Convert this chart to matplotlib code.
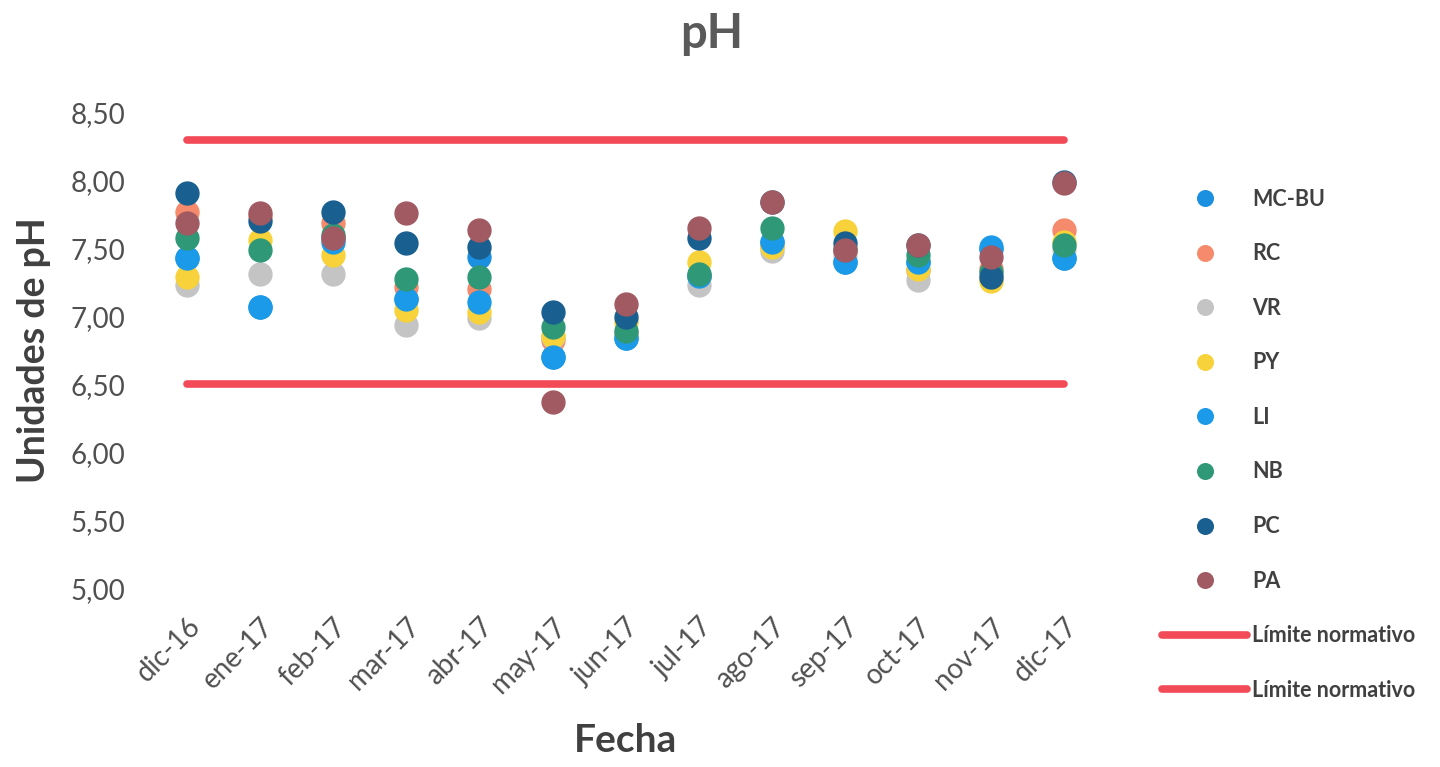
import matplotlib
matplotlib.use("Agg")
import matplotlib.pyplot as plt

plt.rcParams['font.family'] = ['Lato', 'DejaVu Sans']

# Meses de muestreo
meses = ["dic-16", "ene-17", "feb-17", "mar-17", "abr-17", "may-17", "jun-17",
         "jul-17", "ago-17", "sep-17", "oct-17", "nov-17", "dic-17"]

# Valores de pH por punto de muestreo
mc_bu = [7.43, 7.07, 7.58, 7.13, 7.44, 6.70, 6.84, 7.30, 7.55, 7.40, 7.40, 7.50, 7.43]
rc = [7.77, 7.74, 7.69, 7.22, 7.20, 6.83, 6.88, 7.30, 7.52, 7.48, 7.34, 7.35, 7.64]
vr = [7.23, 7.31, 7.31, 6.94, 6.99, 6.85, 6.88, 7.23, 7.48, 7.45, 7.27, 7.28, 7.50]
py = [7.29, 7.56, 7.45, 7.05, 7.03, 6.86, 6.96, 7.40, 7.51, 7.63, 7.35, 7.26, 7.55]
li = [7.43, 7.07, 7.55, 7.13, 7.11, 6.70, 6.84, 7.30, 7.55, 7.40, 7.40, 7.51, 7.43]
nb = [7.58, 7.49, 7.60, 7.28, 7.29, 6.92, 6.89, 7.31, 7.65, 7.50, 7.45, 7.33, 7.53]
pc = [7.91, 7.70, 7.77, 7.54, 7.51, 7.03, 7.00, 7.58, 7.84, 7.54, 7.53, 7.29, 7.99]
pa = [7.69, 7.76, 7.58, 7.76, 7.64, 6.37, 7.09, 7.65, 7.84, 7.49, 7.53, 7.44, 7.98]

# Limites normativos
limite_sup = [8.3] * len(meses)
limite_inf = [6.5] * len(meses)

series = [
    ("MC-BU", mc_bu, "#1b8fe0"),
    ("RC", rc, "#f58a6c"),
    ("VR", vr, "#c4c4c4"),
    ("PY", py, "#f8d23a"),
    ("LI", li, "#1a9ae8"),
    ("NB", nb, "#2f9877"),
    ("PC", pc, "#195f8f"),
    ("PA", pa, "#a15a62"),
]

fig = plt.figure(figsize=(14.4, 7.67), dpi=100)
ax = fig.add_axes([0.1045, 0.233, 0.66, 0.62])

x = list(range(len(meses)))
for nombre, valores, color in series:
    ax.plot(x, valores, "o", linestyle="none", markersize=16.5, color=color,
            label=nombre, clip_on=False, zorder=3)

ax.plot(x, limite_sup, color="#f24b57", linewidth=5.5, label="Límite normativo",
        solid_capstyle="round", zorder=2)
ax.plot(x, limite_inf, color="#f24b57", linewidth=5.5, label="Límite normativo",
        solid_capstyle="round", zorder=2)

ax.set_xlim(-0.5, len(meses) - 0.5)
ax.set_ylim(5.0, 8.5)
ax.set_yticks([5.0, 5.5, 6.0, 6.5, 7.0, 7.5, 8.0, 8.5])
ax.set_yticklabels([f"{v:.2f}".replace(".", ",") for v in ax.get_yticks()])
ax.set_xticks(x)
ax.set_xticklabels(meses, rotation=45, ha="right", rotation_mode="anchor")

for s in ax.spines.values():
    s.set_visible(False)
ax.tick_params(length=0, labelsize=20, colors="#505050")
ax.tick_params(axis="y", pad=18)
ax.tick_params(axis="x", pad=18)

ax.set_xlabel("Fecha", fontsize=28, fontweight="bold", color="#404040", labelpad=18)
ax.set_ylabel("Unidades de pH", fontsize=27, fontweight="bold", color="#404040", labelpad=14)
fig.text(0.494, 0.937, "pH", fontsize=34, fontweight="bold", color="#5a5a5a",
         ha="center", va="baseline")

leg = ax.legend(loc="center left", bbox_to_anchor=(1.044, 0.302), frameon=False,
                labelspacing=1.56, handlelength=3.95, handletextpad=0.25,
                markerscale=0.68, prop={"weight": "bold", "size": 15.5})
for t in leg.get_texts():
    t.set_color("#404040")

fig.savefig("out.png", dpi=100)
